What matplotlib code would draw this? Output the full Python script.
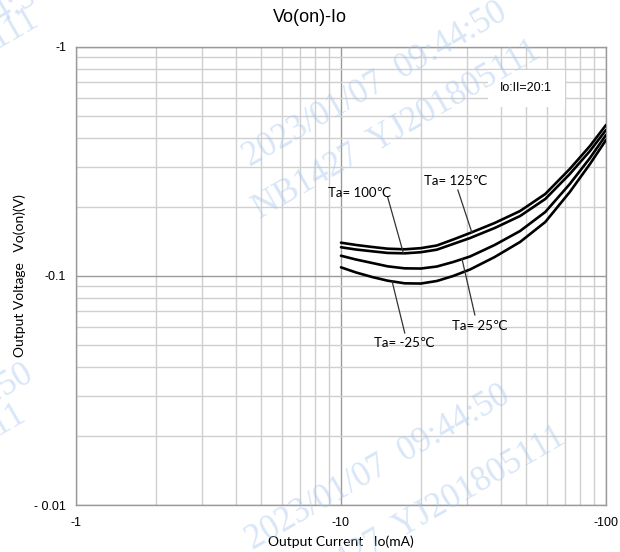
import numpy as np
import matplotlib
matplotlib.use('Agg')
import matplotlib.pyplot as plt
from matplotlib.ticker import FixedLocator, LogLocator, NullFormatter

# Output current Io (mA, magnitude) and output voltage Vo(on) (V, magnitude)
io = [10, 11.4, 13.1, 15, 17.4, 20, 23, 26.5, 30.7, 38, 47.4, 59, 73, 87, 100]
vo_125 = [0.1398, 0.1366, 0.1339, 0.1316, 0.1308, 0.1323, 0.1359, 0.1443, 0.1541,
          0.1704, 0.1922, 0.2281, 0.2933, 0.3696, 0.4564]
vo_100 = [0.1335, 0.1305, 0.1282, 0.1261, 0.1256, 0.1270, 0.1303, 0.1380, 0.1465,
          0.1620, 0.1828, 0.2169, 0.2789, 0.3515, 0.4341]
vo_25 = [0.1226, 0.1180, 0.1140, 0.1102, 0.1080, 0.1078, 0.1100, 0.1151, 0.1217,
         0.1366, 0.1572, 0.1903, 0.2522, 0.3276, 0.4128]
vo_m25 = [0.1091, 0.1036, 0.0990, 0.0954, 0.0929, 0.0927, 0.0951, 0.1000, 0.1068,
          0.1210, 0.1408, 0.1721, 0.2327, 0.3084, 0.3925]

x_ticks = [1, 10, 100]
x_tick_labels = ['-1', '-10', '-100']
y_ticks = [0.01, 0.1, 1]
y_tick_labels = ['- 0.01', '-0.1', '-1']

# curve labels: text, text position, leader line start and end
labels = ['Ta= 100℃', 'Ta= 125℃', 'Ta= 25℃', 'Ta= -25℃']
label_pos = [(11.8, 0.2304), (27.2, 0.260), (33.5, 0.0605), (17.4, 0.0510)]
leader_from = [(15.0, 0.221), (27.6, 0.2374), (32.0, 0.0676), (17.4, 0.0564)]
leader_to = [(17.2, 0.1257), (31.2, 0.1545), (28.6, 0.1190), (15.6, 0.0945)]

fig = plt.figure(figsize=(6.2, 5.52), dpi=100)
ax = fig.add_axes([76 / 620, 47 / 552, 530 / 620, 458 / 552])

ax.set_xscale('log')
ax.set_yscale('log')
ax.set_xlim(1, 100)
ax.set_ylim(0.01, 1)

# grid
ax.xaxis.set_major_locator(FixedLocator(x_ticks))
ax.yaxis.set_major_locator(FixedLocator(y_ticks))
ax.xaxis.set_minor_locator(LogLocator(base=10, subs=np.arange(2, 10)))
ax.yaxis.set_minor_locator(LogLocator(base=10, subs=np.arange(2, 10)))
ax.xaxis.set_minor_formatter(NullFormatter())
ax.yaxis.set_minor_formatter(NullFormatter())
ax.grid(which='minor', color='#cfcfcf', lw=1.0)
ax.grid(which='major', color='#9a9a9a', lw=1.0)
ax.set_axisbelow(True)
ax.set_xticklabels(x_tick_labels, family='Liberation Sans', fontsize=9)
ax.set_yticklabels(y_tick_labels, family='Liberation Sans', fontsize=9)
ax.tick_params(which='both', length=0)
ax.tick_params(axis='x', pad=9)
ax.tick_params(axis='y', pad=7)
for s in ax.spines.values():
    s.set_color('#9a9a9a')
    s.set_linewidth(1.0)

# curves
for vo in [vo_125, vo_100, vo_25, vo_m25]:
    ax.plot(io, vo, color='black', lw=1.9, solid_joinstyle='round',
            solid_capstyle='round', zorder=3)

# labels with leader lines
for txt, pos, p0, p1 in zip(labels, label_pos, leader_from, leader_to):
    ax.plot([p0[0], p1[0]], [p0[1], p1[1]], color='#333333', lw=0.9, zorder=3)
    ax.text(pos[0], pos[1], txt, ha='center', va='center', fontsize=9.5,
            family=['Lato', 'DejaVu Sans'], zorder=4)

# condition box
ax.text(0.8, 0.91, 'Io:II=20:1', transform=ax.transAxes, ha='left', va='center',
        fontsize=9, family='Liberation Sans', zorder=5,
        bbox=dict(boxstyle='square,pad=1.0', facecolor='white', edgecolor='none'))

ax.set_xlabel('Output Current   Io(mA)', family='Lato', fontsize=10, labelpad=4)
ax.set_ylabel('Output Voltage   Vo(on)(V)', family='Lato', fontsize=10, labelpad=6)
fig.text(0.5, 0.968, 'Vo(on)-Io', ha='center', va='center', fontsize=13,
         family='Liberation Sans')

# faint watermark
wm = dict(color='#a9c8ee', alpha=0.45, fontsize=25, family='Liberation Serif',
          rotation=30, ha='center', va='center', zorder=10)
fig.text(0.605, 0.846, '2023/01/07  09:44:50', **wm)
fig.text(0.64, 0.765, 'NB1427  YJ201805111', **wm)
fig.text(0.61, 0.152, '2023/01/07  09:44:50', **wm)
fig.text(0.68, 0.065, 'NB1427  YJ201805111', **wm)
fig.text(-0.13, 0.89, '2023/01/07  09:44:50', **wm)
fig.text(-0.17, 0.82, 'NB1427  YJ201805111', **wm)
fig.text(-0.16, 0.19, '2023/01/07  09:44:50', **wm)
fig.text(-0.19, 0.105, 'NB1427  YJ201805111', **wm)

fig.savefig('out.png', dpi=100)
